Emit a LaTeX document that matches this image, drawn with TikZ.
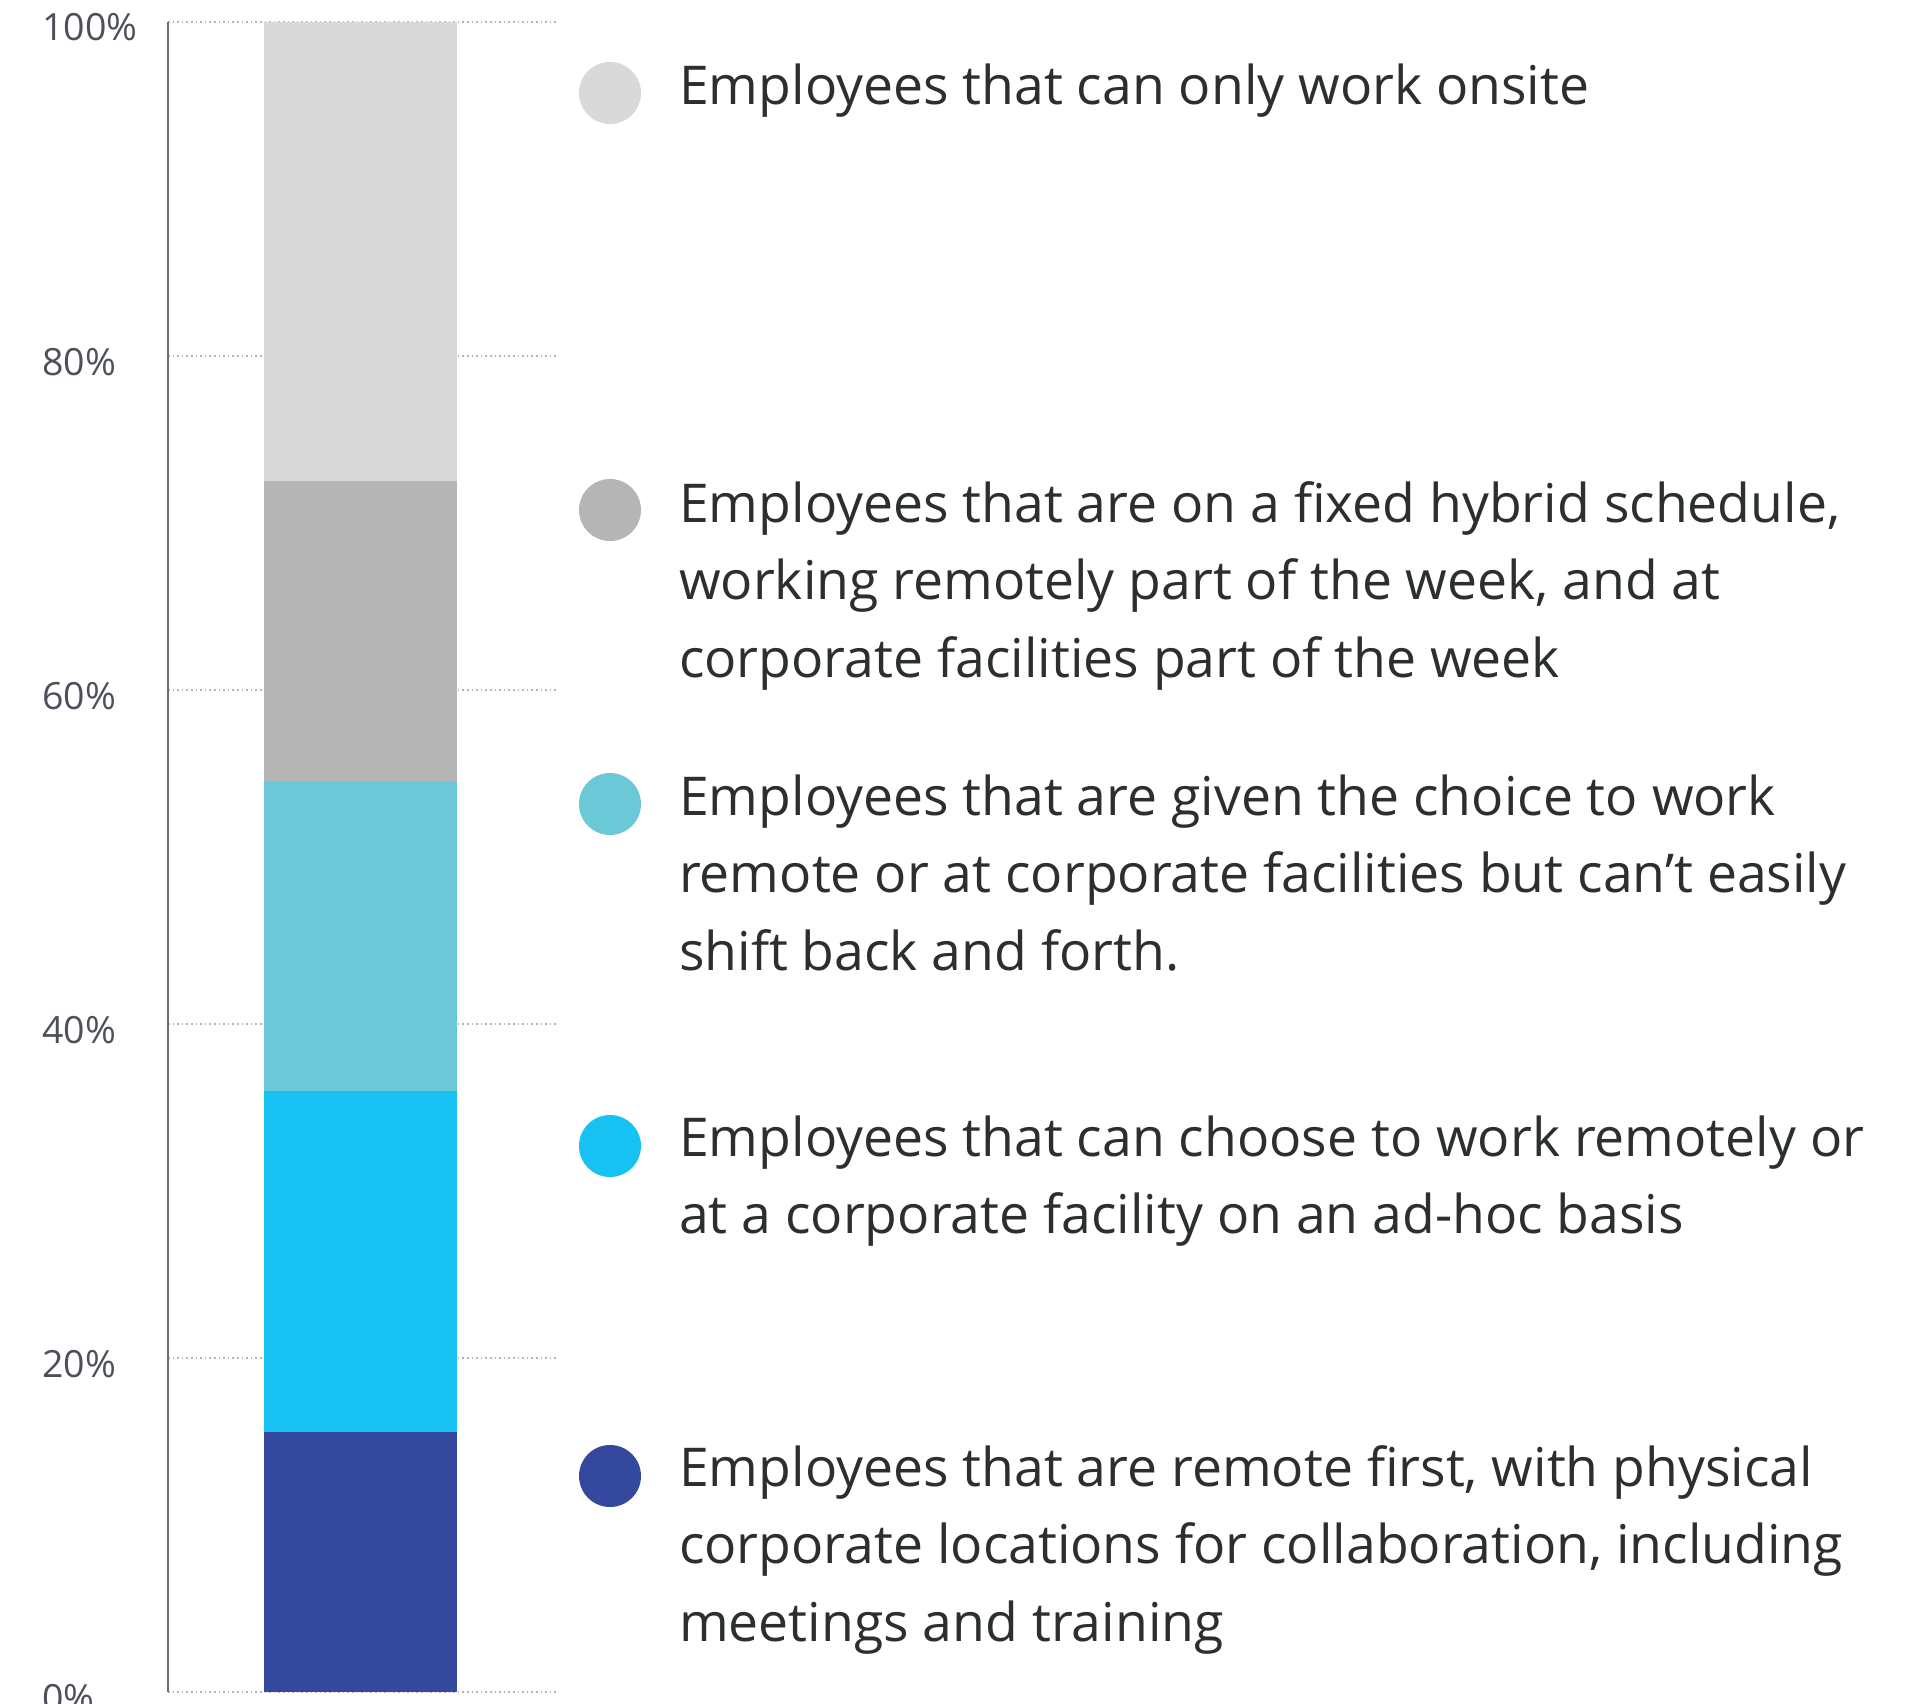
\documentclass[tikz,border=0pt]{standalone}
\usepackage{fontspec}
\setmainfont{Open Sans}
\definecolor{segA}{HTML}{D9D9D9}
\definecolor{segB}{HTML}{B5B5B5}
\definecolor{segC}{HTML}{6AC8D7}
\definecolor{segD}{HTML}{17C1F1}
\definecolor{segE}{HTML}{34499D}
\definecolor{gridgray}{HTML}{B4B4B4}
\definecolor{axisgray}{HTML}{6E6E6E}
\definecolor{ticktext}{HTML}{4C505B}
\definecolor{textdark}{HTML}{2B2F30}
\begin{document}
\begin{tikzpicture}[x=1pt,y=-1pt,
  gridline/.style={draw=gridgray, line width=1.6pt, dash pattern=on 1.6pt off 3pt},
  axisline/.style={draw=axisgray, line width=1.6pt},
  ticklabel/.style={anchor=base west, inner sep=0pt, text=ticktext, font=\fontsize{37.5}{44}\selectfont},
  legdot/.style={circle, minimum size=62pt, inner sep=0pt},
  legtext/.style={anchor=base west, inner sep=0pt, text=textdark, font=\fontsize{53.5}{77.6}\selectfont}]
\useasboundingbox (0,0) rectangle (1922,1704);
% grid lines
\foreach \p/\yy in {100/22,80/356,60/690,40/1024,20/1358,0/1692}{
  \coordinate (gl\p) at (168,\yy);
  \coordinate (gr\p) at (557,\yy);
  \draw[gridline] (gl\p) -- (gr\p);
  \node[ticklabel] (tl\p) at (42,\yy+19) {\p\%};
}
% bar segments
\fill[segA] (264,22) rectangle (457,481);
\fill[segB] (264,481) rectangle (457,781);
\fill[segC] (264,781) rectangle (457,1091);
\fill[segD] (264,1091) rectangle (457,1432);
\fill[segE] (264,1432) rectangle (457,1692);
% axis
\draw[axisline] (gl100) -- (gl0);
% legend
\node[legdot, fill=segA] (d1) at (610,93) {};
\node[legdot, fill=segB] (d2) at (610,510) {};
\node[legdot, fill=segC] (d3) at (610,804) {};
\node[legdot, fill=segD] (d4) at (610,1146) {};
\node[legdot, fill=segE] (d5) at (610,1476) {};
\node[legtext] (t1a) at (679,105) {Employees that can only work onsite};
\node[legtext] (t2a) at (679,522) {Employees that are on a fixed hybrid schedule,};
\node[legtext] (t2b) at (679,599.6) {working remotely part of the week, and at};
\node[legtext] (t2c) at (679,677.2) {corporate facilities part of the week};
\node[legtext] (t3a) at (679,815) {Employees that are given the choice to work};
\node[legtext] (t3b) at (679,892.6) {remote or at corporate facilities but can’t easily};
\node[legtext] (t3c) at (679,970.2) {shift back and forth.};
\node[legtext] (t4a) at (679,1156) {Employees that can choose to work remotely or};
\node[legtext] (t4b) at (679,1233.6) {at a corporate facility on an ad-hoc basis};
\node[legtext] (t5a) at (679,1486) {Employees that are remote first, with physical};
\node[legtext] (t5b) at (679,1563.6) {corporate locations for collaboration, including};
\node[legtext] (t5c) at (679,1641.2) {meetings and training};
\end{tikzpicture}
\end{document}
